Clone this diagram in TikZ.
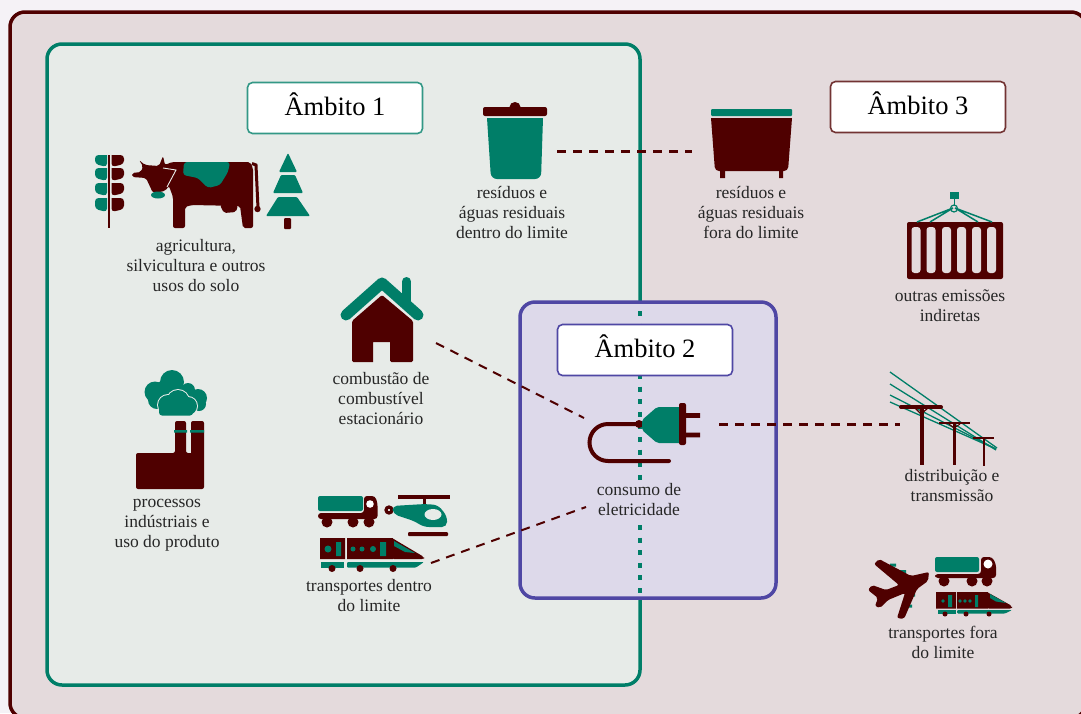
\documentclass[tikz,border=0pt]{standalone}
\usepackage{fontspec}
\setmainfont{Liberation Serif}
\usepackage{xcolor}
\usetikzlibrary{positioning}
\definecolor{maroon}{HTML}{4F0000}
\definecolor{teal1}{HTML}{007E68}
\definecolor{pagebg}{HTML}{F5F2F6}
\definecolor{outerbg}{HTML}{E4DADC}
\definecolor{innerbg}{HTML}{E7EBE8}
\definecolor{planbg}{HTML}{DDD9EA}
\definecolor{planline}{HTML}{4F47A4}
\begin{document}
\begin{tikzpicture}
            [
            x=1pt,y=-1pt,
            lbl/.style={align=center,font=\fontsize{17.5}{20}\selectfont,text=black!85},
            scopebox/.style={draw,fill=white,rounded corners=5pt,line width=1.6pt,minimum width=175pt,minimum height=51pt,text depth=7pt,font=\fontsize{26.5}{28}\selectfont},
            link/.style={maroon,line width=3pt,dash pattern=on 9pt off 7pt}
            ]
        \useasboundingbox (0,0) rectangle (1081,713);
        \fill[pagebg] (0,0) rectangle (1081,713);
        % frames
        \draw[maroon,fill=outerbg,line width=3.5pt,rounded corners=15pt] (10,12) rectangle (1086,718);
        \draw[teal1,fill=innerbg,line width=3.5pt,rounded corners=15pt] (47,44) rectangle (640,685);
        \draw[planline,fill=planbg,line width=3.5pt,rounded corners=15pt] (520,302) rectangle (776,598);
        \draw[teal1,line width=4.5pt,dash pattern=on 5pt off 7.6pt] (640,311) -- (640,480) (640,525) -- (640,596);
        % scope labels
        \node[scopebox,draw=teal1!80] (s1) at (335,108) {Âmbito 1};
        \node[scopebox,draw=maroon!80] (s3) at (918,107) {Âmbito 3};
        \node[scopebox,draw=planline] (s2) at (645,350) {Âmbito 2};
        % texts
        \node[lbl] (agri) at (196,266) {agricultura,\\silvicultura e outros\\usos do solo};
        \node[lbl] (proc) at (167,525) {processos\\indústriais e\\uso do produto};
        \node[lbl] (comb) at (381,399) {combustão de\\combustível\\estacionário};
        \node[lbl] (trin) at (369,596) {transportes dentro\\do limite};
        \node[lbl] (resin) at (512,212) {resíduos e\\águas residuais\\dentro do limite};
        \node[lbl] (resout) at (751,212) {resíduos e\\águas residuais\\fora do limite};
        \node[lbl] (elec) at (639,500) {consumo de\\eletricidade};
        \node[lbl] (other) at (950,306) {outras emissões\\indiretas};
        \node[lbl] (dist) at (952,486) {distribuição e\\transmissão};
        \node[lbl] (trout) at (943,642) {transportes fora\\do limite};
        % connector ends
        \coordinate (a1) at (557,151);
        \coordinate (a2) at (692,151);
        \coordinate (b1) at (436,343);
        \coordinate (b2) at (584,418);
        \coordinate (c1) at (431,563);
        \coordinate (c2) at (586,507);
        \coordinate (d1) at (719,424);
        \coordinate (d2) at (900,424);
        \draw[link] (a1) -- (a2);
        \draw[link,line width=2pt] (b1) -- (b2);
        \draw[link,line width=2pt] (c1) -- (c2);
        \draw[link] (d1) -- (d2);
        % wheat
        \draw[maroon,line width=2.4pt] (109,155) -- (109,228);
        \foreach \y/\h in {155/12,168/13,183/13,198/14} {
            \fill[teal1,rounded corners=3.5pt] (107,\y) -- (95,\y) -- (95,\y+\h-3) -- (107,\y+\h) [sharp corners] -- cycle;
            \fill[maroon,rounded corners=3.5pt] (111.5,\y) -- (124,\y) -- (124,\y+\h-3) -- (111.5,\y+\h) [sharp corners] -- cycle;
        }
        % cow
        \fill[maroon,rounded corners=2pt] (172,162) -- (250,162) -- (253,168) -- (253,228) -- (243,228) -- (240,206) -- (192,205) -- (185,207) -- (185,228) -- (173,228) -- (173,197) -- (169,186) -- (165,191) -- (153,193) -- (146,178) -- (132,177) -- (132,173) -- (141,172) -- (143,166) -- (139,160) -- (145,165) -- (159,166) -- (163,156) -- (165,165) -- cycle;
        \fill[maroon,rounded corners=2pt] (220,205) -- (238,205) -- (236,212) -- (224,213) -- cycle;
        \draw[maroon,line width=3pt] (252,163.5) -- (256,165) -- (258,208);
        \fill[maroon] (257.5,209) circle (3.2pt);
        \fill[teal1,rounded corners=3pt] (184,162) -- (230,162) -- (228,172) -- (220,185) -- (208,188) -- (198,178) -- (183,175) -- cycle;
        \draw[innerbg,line width=.9pt] (163,168) -- (176,170) -- (167,187);
        \fill[teal1] (158,195) ellipse (7pt and 3.5pt);
        % tree
        \fill[teal1,rounded corners=1pt] (288,153) -- (297,172) -- (279,172) -- cycle;
        \fill[teal1,rounded corners=1pt] (281,175) -- (295,175) -- (303,193) -- (273,193) -- cycle;
        \fill[teal1,rounded corners=1pt] (278,197) -- (297,197) -- (310,216) -- (266,216) -- cycle;
        \fill[maroon,rounded corners=1pt] (284,218) rectangle (291,229);
        % house
        \fill[maroon,rounded corners=1.5pt] (382,295) -- (413,321) -- (413,362) -- (390,362) [sharp corners] -- (390,342) -- (373,342) -- (373,362) [rounded corners=1.5pt] -- (352,362) -- (352,321) -- cycle;
        \draw[teal1,line width=9pt,line cap=round] (406.5,281.5) -- (406.5,302);
        \draw[teal1,line width=11pt,line cap=round,line join=round] (346,315) -- (382,283) -- (418,315);
        % factory
        \foreach \cx/\cy/\r in {155/392/10.5,172/382/12,157/400/9,165/390/10,188/390/7,198/398/9,199/404/7,190/404/6}
            \fill[teal1] (\cx,\cy) circle (\r pt);
        \foreach \cx/\cy/\r in {168/405/11,178/401/12,188/406/10}
            \fill[innerbg] (\cx,\cy) circle (\r pt);
        \foreach \cx/\cy/\r in {168/405/10,178/401/11,188/406/9}
            \fill[teal1] (\cx,\cy) circle (\r pt);
        \fill[teal1,rounded corners=3pt] (159,404) rectangle (193,415.5);
        \fill[maroon,rounded corners=2pt] (136,453) -- (175,453) -- (175,421) -- (186,421) -- (186,453) [sharp corners] -- (191,453) [rounded corners=2pt] -- (191,421) -- (204,421) -- (204,489) -- (136,489) -- cycle;
        \fill[teal1] (174,430) rectangle (187,432.5) (190,430) rectangle (204,432.5);
        % bins
        \fill[teal1] (487,118) -- (543,118) [rounded corners=6pt] -- (541,179) -- (491,179) [sharp corners] -- cycle;
        \fill[maroon] (515,107) ellipse (5.5pt and 5pt);
        \fill[maroon,rounded corners=2pt] (483,107) rectangle (547,116);
        \fill[teal1,rounded corners=1pt] (711,109) rectangle (792,116);
        \fill[maroon] (711,118) -- (792,118) [rounded corners=4pt] -- (788,171) -- (715,171) [sharp corners] -- cycle;
        \fill[maroon] (720,168) rectangle (725,178) (779,168) rectangle (783,178);
        % truck left
        \fill[teal1,rounded corners=2pt] (318,496) rectangle (363,511);
        \fill[maroon,rounded corners=3pt] (364,496) -- (375,496) -- (377.5,503) -- (377.5,519) -- (318,519) -- (318,513) -- (364,513) -- cycle;
        \fill[white] (370,504) circle (3.8pt);
        \foreach \x in {327,353,369} \fill[maroon] (\x,522) circle (5.5pt);
        % helicopter
        \fill[maroon] (398,495) rectangle (450,499);
        \fill[maroon,rounded corners=1pt] (408,532) rectangle (448,536);
        \fill[maroon] (422.5,495) rectangle (425.5,506);
        \draw[maroon,line width=3.2pt] (389,510) circle (3pt);
        \fill[teal1,rounded corners=5pt] (392,506) -- (425,504) -- (438,505) -- (447,516) -- (447,527) -- (424,527) -- (414,521) -- (393,514) -- cycle;
        \fill[innerbg] (433,514.5) ellipse (8.5pt and 5.5pt);
        % train left
        \fill[maroon] (320,538) rectangle (345,559) (347,538) rectangle (393,559);
        \fill[maroon,rounded corners=2pt] (392,538) -- (424,557) -- (424,559) -- (392,559) -- cycle;
        \fill[teal1] (394,541) -- (415,553) -- (405,552) -- (394,546) -- cycle;
        \fill[teal1] (321,562) rectangle (344,567.5);
        \fill[teal1,rounded corners=1pt] (347,562) -- (424,562) -- (416,567.5) -- (347,567.5) -- cycle;
        \foreach \x in {332,360,393} \fill[maroon] (\x,568.5) circle (3.5pt);
        \fill[teal1] (336,542) rectangle (341,556) (380,542) rectangle (386,556);
        \foreach \x/\r in {328/3.5,353/2.5,362/2.5,373/3} \fill[teal1] (\x,549) circle (\r pt);
        % plug
        \draw[maroon,line width=4pt,line cap=round] (638,424) -- (608,424) arc (90:270:18.5pt) -- (669,461);
        \fill[maroon] (639,424) circle (4pt);
        \fill[teal1,rounded corners=2pt] (642,420) -- (657,407) -- (681,407) -- (681,443) -- (657,443) -- (642,430) -- cycle;
        \fill[maroon,rounded corners=2pt] (679,403) rectangle (686,445);
        \fill[maroon] (686,413.2) rectangle (700,417.8) (686,432.7) rectangle (700,437.3);
        % container
        \fill[maroon,rounded corners=2pt] (907,222) rectangle (1003,279);
        \foreach \x in {911.5,926.5,942,957,972,987} \fill[outerbg,rounded corners=3pt] (\x,227) rectangle (\x+9,273);
        \fill[teal1] (950,192) rectangle (959,199);
        \draw[teal1,line width=1.5pt] (954.5,199) -- (954.5,205);
        \draw[teal1,line width=1.2pt] (954,208.5) circle (3.5pt);
        \draw[teal1,line width=1.5pt] (917,222) -- (953,208) -- (930,222) (992,222) -- (955,208) -- (978,222);
        % power lines
        \foreach \ya/\xb/\yb in {372/997/448,384/996/450,395/996/449,402/996/449}
            \draw[teal1,line width=1.3pt] (890,\ya) -- (\xb,\yb);
        \draw[maroon,line width=4pt,line cap=round] (901,407) -- (941,407);
        \draw[maroon,line width=4pt] (921.5,407) -- (921.5,465);
        \draw[maroon,line width=1.2pt] (915,408) -- (921,414) -- (928,408);
        \draw[maroon,line width=2pt] (939,423) -- (970,423);
        \draw[maroon,line width=3.5pt] (954.5,423) -- (954.5,465);
        \draw[maroon,line width=1pt] (949,424) -- (954,428) -- (960,424);
        \draw[maroon,line width=2pt] (973,438) -- (994,438);
        \draw[maroon,line width=2pt] (983.5,438) -- (983.5,466);
        % plane
        \fill[teal1] (890,563.5) rectangle (896,566.5) (900,570) rectangle (906,573) (910,593.5) rectangle (915,596.5) (907,604.5) rectangle (912,607.5);
        \fill[maroon,rounded corners=2pt] (929,572) -- (911,576) -- (879,559) -- (874,564) -- (899,585) -- (886,590) -- (872,585) -- (868,590) -- (878,598) -- (875,606) -- (880,608) -- (888,600) -- (905,593) -- (897,618) -- (904,619) -- (917,589) -- (928,581) -- cycle;
        % truck right
        \fill[teal1,rounded corners=2pt] (935,557) rectangle (979,572);
        \fill[maroon,rounded corners=3pt] (981,557) -- (992,557) -- (996,564) -- (996,578) -- (935,578) -- (935,574) -- (981,574) -- cycle;
        \fill[white] (988,564) circle (4.5pt);
        \foreach \x in {944,972,987} \fill[maroon] (\x,581) circle (5.5pt);
        % train right
        \fill[maroon] (936,592) rectangle (956,608.5) (957,592) rectangle (988,608.5);
        \fill[maroon,rounded corners=2pt] (987,592) -- (1012,606) -- (1012,608.5) -- (987,608.5) -- cycle;
        \fill[teal1] (990,594) -- (1006,603) -- (996,601.5) -- (990,598) -- cycle;
        \fill[teal1] (938,610) rectangle (956,613.5);
        \fill[teal1,rounded corners=1pt] (957,610) -- (1012,610) -- (1005,613.5) -- (957,613.5) -- cycle;
        \foreach \x in {945,966,989} \fill[maroon] (\x,614) circle (2.5pt);
        \fill[teal1] (948,595) rectangle (952,607) (975,595) rectangle (978,607);
        \foreach \x in {943,960,965,970} \fill[teal1] (\x,601) circle (1.8pt);
        \end{tikzpicture}
\end{document}
